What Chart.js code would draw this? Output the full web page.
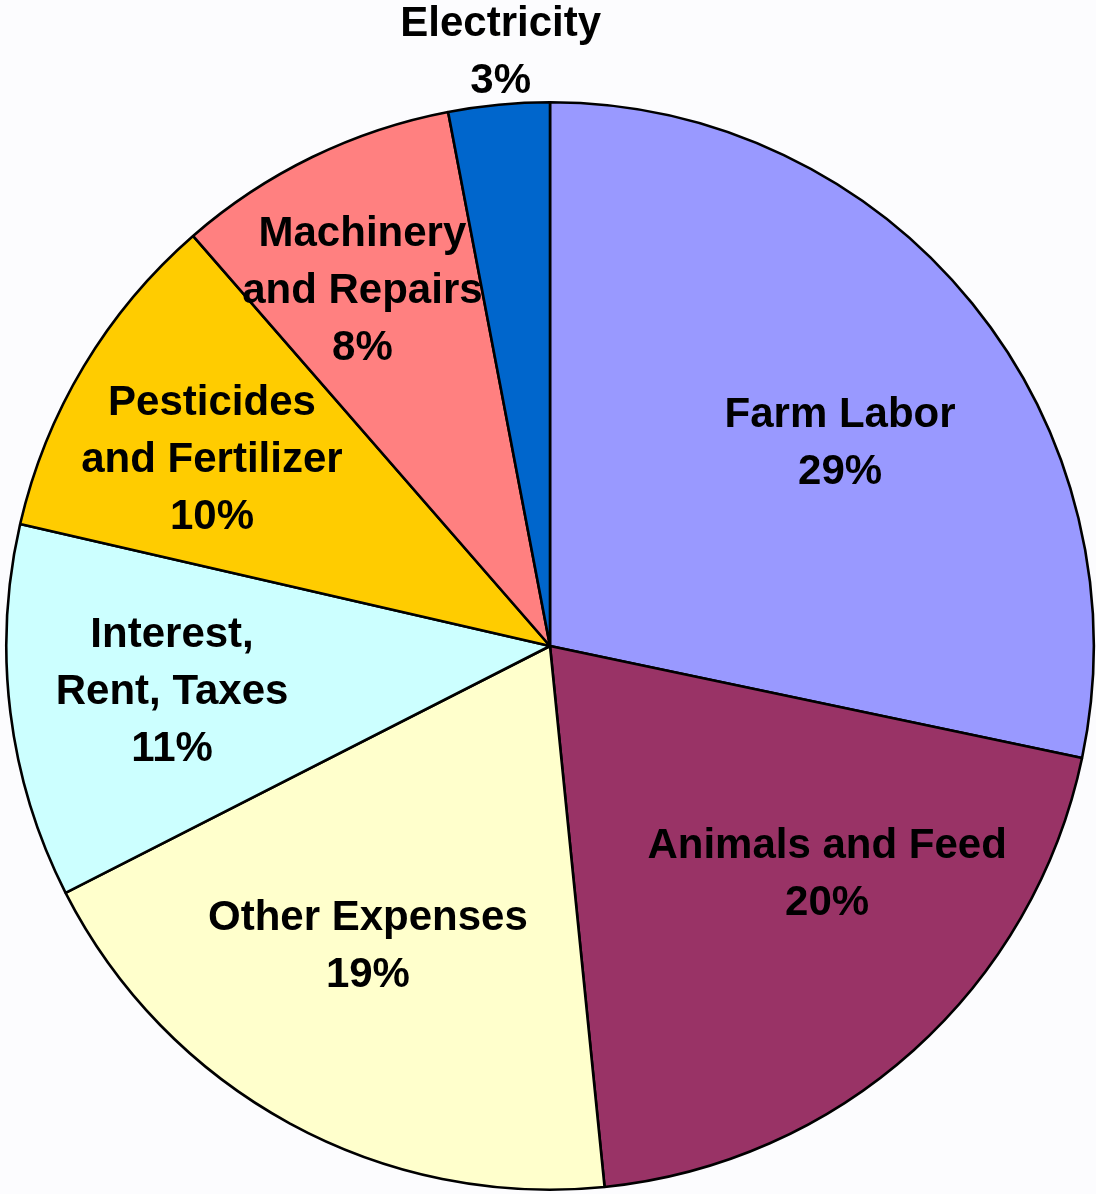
<!DOCTYPE html>
<html>
<head>
<meta charset="utf-8">
<title>Farm expenses</title>
<script src="https://cdn.jsdelivr.net/npm/chart.js@4/dist/chart.umd.min.js"></script>
<style>
  html, body { margin: 0; padding: 0; background: #fcfcfe; }
  canvas { display: block; }
</style>
</head>
<body>
<canvas id="myChart" width="1096" height="1194"></canvas>
<script>
// slices, clockwise from 12 o'clock
const categories = [
    ['Farm Labor'],
    ['Animals and Feed'],
    ['Other Expenses'],
    ['Interest,', 'Rent, Taxes'],
    ['Pesticides', 'and Fertilizer'],
    ['Machinery', 'and Repairs'],
    ['Electricity']
];
const shares = [28.3, 20.1, 19.1, 11.1, 10.0, 8.4, 3.0];
const shareLabels = ['29%', '20%', '19%', '11%', '10%', '8%', '3%'];

const sliceColors = ['#9999ff', '#993366', '#ffffcc', '#ccffff', '#ffcc00', '#ff8080', '#0066cc'];
// label anchor: fraction of radius along mid angle, then a small nudge in px
const labelRadius = [0.68, 0.68, 0.68, 0.68, 0.68, 0.68, 1.1];
const labelNudge = [[3, 31], [30, -46], [-5, -24], [-11, 1], [-21, 5], [-26, -22], [7, 2]];

const bgPlugin = {
    id: 'bg',
    beforeDraw(chart) {
        const c = chart.ctx;
        c.save();
        c.fillStyle = '#fcfcfe';
        c.fillRect(0, 0, chart.width, chart.height);
        c.restore();
    }
};

const sliceLabels = {
    id: 'sliceLabels',
    afterDatasetsDraw(chart) {
        const c = chart.ctx;
        const arcs = chart.getDatasetMeta(0).data;
        const lineH = 57;
        c.save();
        c.font = 'bold 42px "Liberation Sans", Arial, sans-serif';
        c.fillStyle = '#000000';
        c.textAlign = 'center';
        c.textBaseline = 'middle';
        arcs.forEach((arc, i) => {
            const mid = (arc.startAngle + arc.endAngle) / 2;
            const r = arc.outerRadius * labelRadius[i];
            const cx = arc.x + Math.cos(mid) * r + labelNudge[i][0];
            const cy = arc.y + Math.sin(mid) * r + labelNudge[i][1];
            const lines = categories[i].concat([shareLabels[i]]);
            const top = cy - (lines.length - 1) * lineH / 2;
            lines.forEach((t, k) => c.fillText(t, cx, top + k * lineH));
        });
        c.restore();
    }
};

const ctx = document.getElementById('myChart').getContext('2d');

const pieChart = new Chart(ctx, {
    type: 'pie',
    data: {
        labels: categories.map(c => c.join(' ')),
        datasets: [{
            data: shares,
            backgroundColor: sliceColors,
            borderColor: '#000000',
            borderWidth: 2.6
        }]
    },
    options: {
        responsive: false,
        animation: false,
        layout: { padding: { left: 5, right: 1, top: 101, bottom: 3 } },
        plugins: {
            legend: { display: false },
            tooltip: { enabled: false }
        }
    },
    plugins: [bgPlugin, sliceLabels]
});
</script>
</body>
</html>
